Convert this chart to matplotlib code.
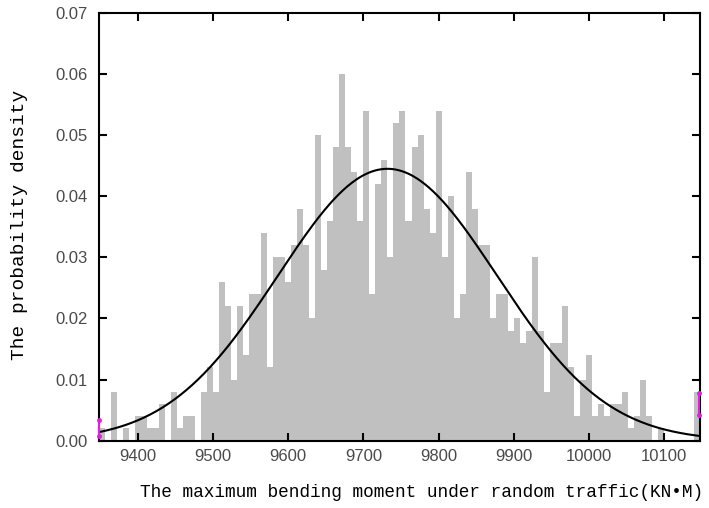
#!/usr/bin/env python3

import numpy as np
from matplotlib import pyplot as plt

# histogram of the maximum bending moment (100 equal bins)
BIN_START = 9348.0
BIN_WIDTH = 8.0
heights = [
    0.002, 0.000, 0.008, 0.000, 0.002, 0.000, 0.004, 0.004, 0.002, 0.002,
    0.006, 0.000, 0.008, 0.002, 0.004, 0.004, 0.000, 0.008, 0.012, 0.008,
    0.026, 0.022, 0.010, 0.022, 0.014, 0.024, 0.024, 0.034, 0.012, 0.030,
    0.030, 0.026, 0.032, 0.038, 0.032, 0.020, 0.050, 0.028, 0.036, 0.048,
    0.060, 0.048, 0.044, 0.036, 0.054, 0.024, 0.042, 0.046, 0.030, 0.052,
    0.054, 0.036, 0.048, 0.050, 0.038, 0.034, 0.054, 0.030, 0.040, 0.020,
    0.024, 0.044, 0.038, 0.032, 0.032, 0.020, 0.024, 0.024, 0.018, 0.020,
    0.016, 0.018, 0.030, 0.018, 0.008, 0.016, 0.016, 0.022, 0.012, 0.004,
    0.010, 0.014, 0.004, 0.006, 0.004, 0.006, 0.006, 0.008, 0.002, 0.004,
    0.010, 0.004, 0.000, 0.002, 0.000, 0.000, 0.000, 0.000, 0.000, 0.008,
]

# fitted normal curve
FIT_MEAN = 9732.0
FIT_SIGMA = 146.0
FIT_PEAK = 0.0445

# magenta marks on the left and right edge
mark_x = [9348.0, 10147.0]
mark_lo = [0.0007, 0.0042]
mark_hi = [0.0034, 0.0078]

X_TICKS = [9400, 9500, 9600, 9700, 9800, 9900, 10000, 10100]
Y_TICKS = [0.00, 0.01, 0.02, 0.03, 0.04, 0.05, 0.06, 0.07]
X_LABEL = 'The maximum bending moment under random traffic(KN\u2022M)'
Y_LABEL = 'The probability density'


def draw_chart():
    fig = plt.figure(figsize=(7.09, 5.08), dpi=100)
    ax = fig.add_axes([0.1396, 0.1325, 0.8477, 0.8419])

    lefts = BIN_START + BIN_WIDTH * np.arange(len(heights))
    ax.bar(lefts, heights, width=BIN_WIDTH, align='edge', color='#c0c0c0',
           linewidth=0, antialiased=False)

    xs = np.linspace(BIN_START, BIN_START + BIN_WIDTH * len(heights), 400)
    ax.plot(xs, FIT_PEAK * np.exp(-(xs - FIT_MEAN) ** 2 / (2 * FIT_SIGMA ** 2)),
            color='black', linewidth=1.5)

    for x, lo, hi in zip(mark_x, mark_lo, mark_hi):
        ax.plot([x, x], [lo, hi], color='#e020e0', linewidth=1.5,
                marker='o', markersize=2.5, clip_on=False, zorder=5)

    ax.set_xlim(BIN_START, BIN_START + BIN_WIDTH * len(heights))
    ax.set_ylim(0, 0.07)
    ax.set_xticks(X_TICKS)
    ax.set_yticks(Y_TICKS)
    ax.set_yticklabels(['%.2f' % v for v in Y_TICKS])

    ax.tick_params(direction='in', length=6, width=1.5, top=True, right=True,
                   labelsize=12, labelcolor='#4a4a4a')
    ax.tick_params(axis='x', pad=6)
    ax.tick_params(axis='y', pad=8)
    for lab in ax.get_xticklabels() + ax.get_yticklabels():
        lab.set_family('Liberation Sans')
    for sp in ax.spines.values():
        sp.set_linewidth(1.5)

    ax.set_xlabel(X_LABEL, family=['Liberation Mono', 'DejaVu Sans'],
                  fontsize=12.8)
    ax.set_ylabel(Y_LABEL, family=['Liberation Mono', 'DejaVu Sans'],
                  fontsize=14)
    ax.xaxis.set_label_coords(0.536, -0.102)
    ax.yaxis.set_label_coords(-0.118, 0.504)

    fig.savefig('out.png', dpi=100)


if __name__ == '__main__':
    draw_chart()
